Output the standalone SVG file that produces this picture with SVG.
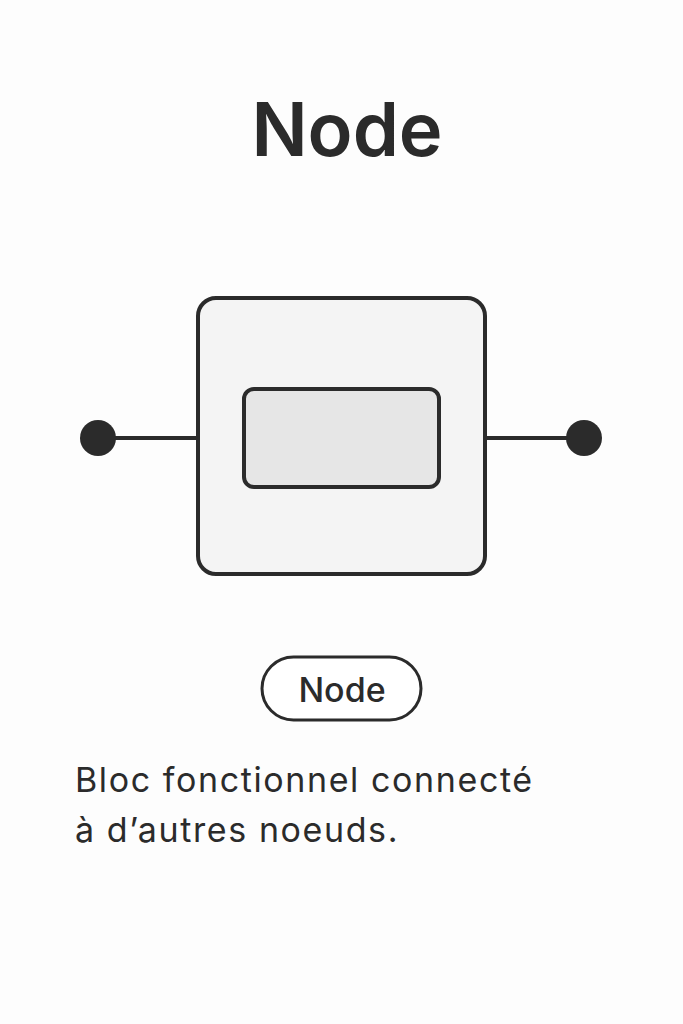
<svg xmlns="http://www.w3.org/2000/svg" width="683" height="1024" viewBox="0 0 683 1024">
<style>
.s{stroke:#2b2b2b;stroke-width:4;}
.t{font-family:Inter,"Liberation Sans",sans-serif;fill:#2b2b2b;}
</style>
<rect width="683" height="1024" fill="#fdfdfd"/>
<text class="t" x="347" y="156" font-size="74" font-weight="600" text-anchor="middle">Node</text>
<g id="connectors">
<line class="s" x1="98" y1="438" x2="198" y2="438"/>
<line class="s" x1="485" y1="438" x2="584" y2="438"/>
<circle cx="98" cy="438" r="18" fill="#2b2b2b"/>
<circle cx="584" cy="438" r="18" fill="#2b2b2b"/>
</g>
<g id="node">
<rect class="s" x="198" y="298" width="287" height="276" rx="18" fill="#f4f4f4"/>
<rect class="s" x="244" y="389" width="195" height="98" rx="10" fill="#e6e6e6"/>
</g>
<g id="label">
<rect x="262" y="657" width="159" height="63" rx="31.5" fill="#fff" stroke="#2b2b2b" stroke-width="3"/>
<text class="t" x="342" y="702" font-size="34" font-weight="500" text-anchor="middle">Node</text>
</g>
<text class="t" x="75" y="792" font-size="34" letter-spacing="1.6">Bloc fonctionnel connecté</text>
<text class="t" x="75" y="842" font-size="34" letter-spacing="1.6">à d’autres noeuds.</text>
</svg>
